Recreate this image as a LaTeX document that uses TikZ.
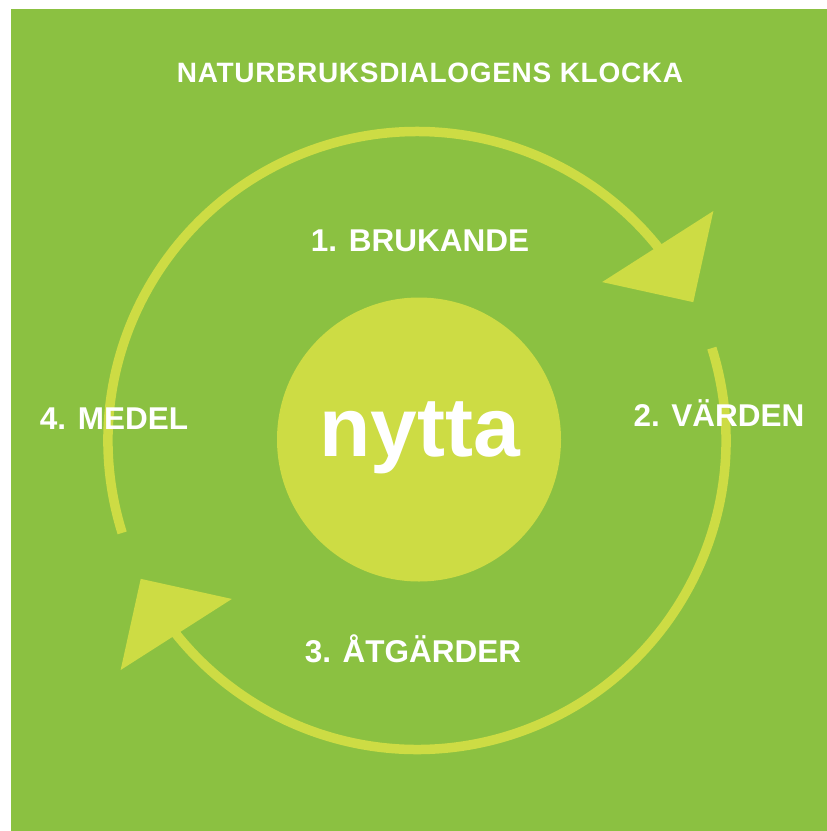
\documentclass[tikz,border=0pt]{standalone}
\usepackage{fontspec}
\setmainfont{Liberation Sans}
\newfontfamily\rubrikfont[LetterSpace=2.5]{Liberation Sans}
\usetikzlibrary{arrows.meta,bending,positioning}
\definecolor{grasgron}{RGB}{139,193,65}
\definecolor{limegron}{RGB}{205,220,68}
\tikzset{
  klocka/.style = {
    x=1pt, y=1pt,
    % Texter
    stage text/.style = {text=white, anchor=base, inner sep=0pt,
      font=\fontsize{31.5}{36}\selectfont\bfseries},
    title text/.style = {stage text, font=\rubrikfont\fontsize{28}{32}\selectfont\bfseries},
    % Ring med pilar
    ring line/.style  = {draw=limegron, line width=9.5pt,
      -{Triangle[length=66pt, width=132pt, flex, line width=0pt]}},
  }
}
\def\ringradie{309}

\begin{document}
\begin{tikzpicture}[klocka]
  \useasboundingbox (0,0) rectangle (827,-831);
  \fill[grasgron] (11,-9) rectangle (827,-831);
  \coordinate (c) at (417,-440.5);
  % ringen
  \draw[ring line] ([shift={(197.4:\ringradie)}]c)
     arc[start angle=197.4, end angle=26.6, radius=\ringradie];
  \draw[ring line] ([shift={(17.4:\ringradie)}]c)
     arc[start angle=17.4, end angle=-153.4, radius=\ringradie];
  % mitten
  \node[circle, fill=limegron, minimum size=284pt, inner sep=0pt] (nytta) at (419,-439.5) {};
  \node[text=white, anchor=base, inner sep=0pt,
        font=\fontsize{84}{90}\selectfont\bfseries] (nyttatext) at (420,-456) {nytta};
  % texter
  \node[title text] (rubrik)   at (430,-82.5) {NATURBRUKSDIALOGENS KLOCKA};
  \node[stage text] (brukande) at (420,-251)  {1. BRUKANDE};
  \node[stage text] (varden)   at (719,-426)  {2. VÄRDEN};
  \node[stage text] (atgarder) at (413,-662)  {3. ÅTGÄRDER};
  \node[stage text] (medel)    at (114,-429)  {4. MEDEL};
\end{tikzpicture}
\end{document}
